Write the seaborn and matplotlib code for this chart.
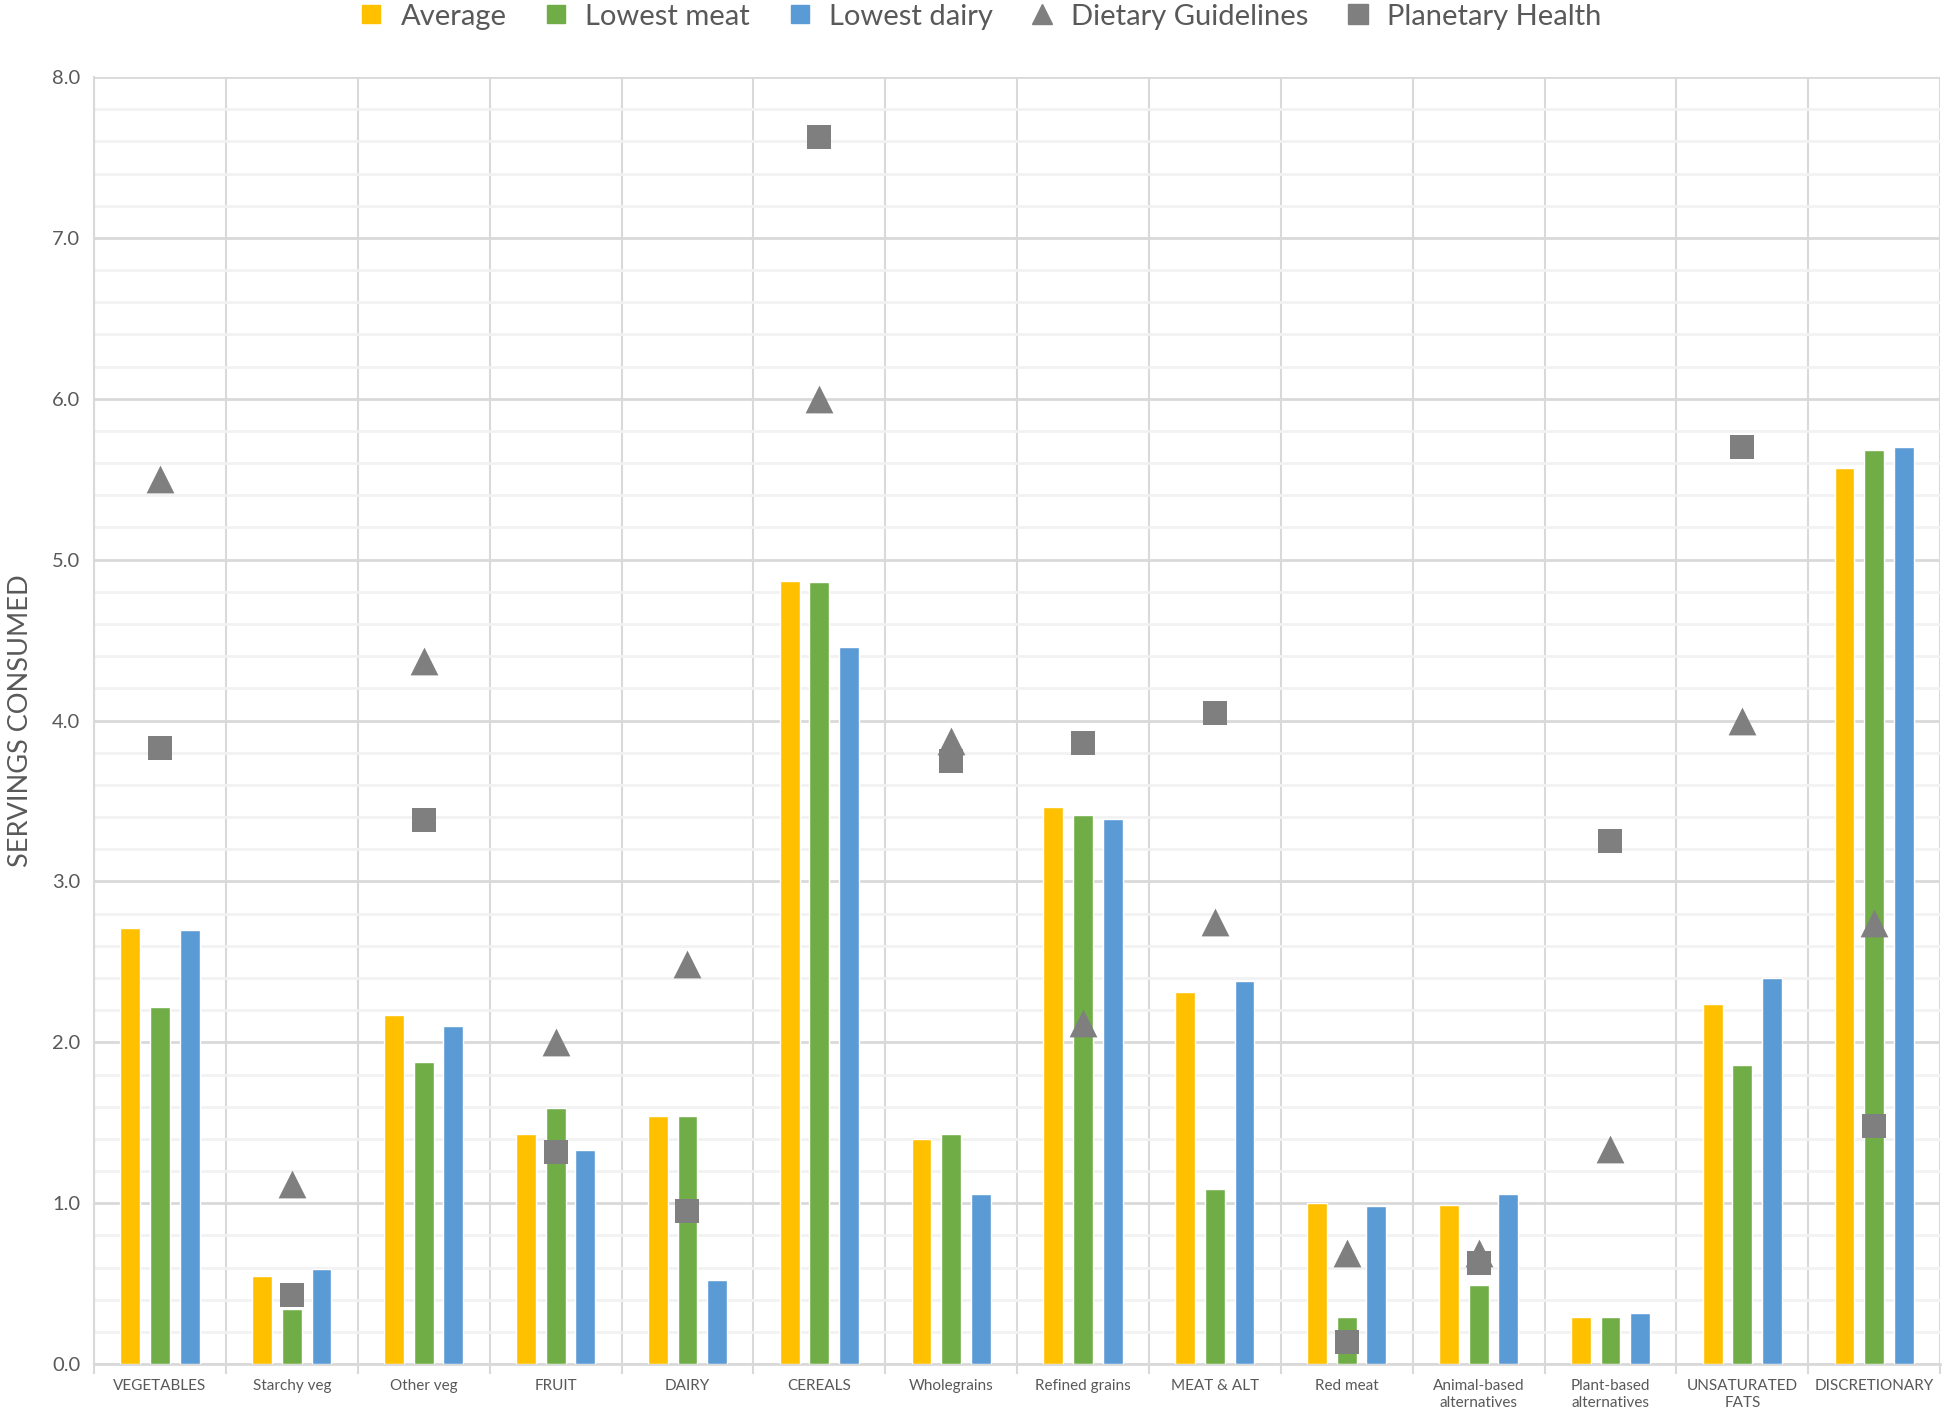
import numpy as np
import pandas as pd
import matplotlib.pyplot as plt
from matplotlib.lines import Line2D
from matplotlib.ticker import MultipleLocator, FixedLocator, FormatStrFormatter
import seaborn as sns

categories = ['VEGETABLES', 'Starchy veg', 'Other veg', 'FRUIT', 'DAIRY', 'CEREALS',
              'Wholegrains', 'Refined grains', 'MEAT & ALT', 'Red meat',
              'Animal-based\nalternatives', 'Plant-based\nalternatives',
              'UNSATURATED\nFATS', 'DISCRETIONARY']
average = [2.71, 0.55, 2.17, 1.43, 1.54, 4.87, 1.40, 3.46, 2.31, 1.00, 0.99, 0.29, 2.24, 5.57]
lowest_meat = [2.22, 0.34, 1.88, 1.59, 1.54, 4.86, 1.43, 3.41, 1.09, 0.29, 0.49, 0.29, 1.86, 5.68]
lowest_dairy = [2.70, 0.59, 2.10, 1.33, 0.52, 4.46, 1.06, 3.39, 2.38, 0.98, 1.06, 0.32, 2.40, 5.70]
dietary_guidelines = [5.50, 1.12, 4.37, 2.00, 2.49, 6.00, 3.87, 2.12, 2.75, 0.69, 0.69, 1.34, 4.00, 2.74]
planetary_health = [3.83, 0.43, 3.38, 1.32, 0.95, 7.63, 3.75, 3.86, 4.05, 0.14, 0.63, 3.25, 5.70, 1.48]

series_names = ['Average', 'Lowest meat', 'Lowest dairy']
colors = ['#FFC000', '#70AD47', '#5B9BD5']
grey = '#7F7F7F'
text_grey = '#595959'

sns.set_theme(style='white')
plt.rcParams['font.family'] = ['Lato', 'DejaVu Sans']

df = pd.DataFrame({
    'cat': categories * 3,
    'series': np.repeat(series_names, len(categories)),
    'value': average + lowest_meat + lowest_dairy,
})
df_pts = pd.DataFrame({'cat': categories, 'dg': dietary_guidelines, 'ph': planetary_health})

fig = plt.figure(figsize=(19.44, 14.18), dpi=100)
ax = fig.add_axes([0.0484, 0.038, 0.9496, 0.9077])

sns.barplot(data=df, x='cat', y='value', hue='series', palette=colors, saturation=1,
            width=0.675, gap=0.33, ax=ax, legend=False, zorder=3)
sns.stripplot(data=df_pts, x='cat', y='dg', marker='^', color=grey, size=20,
              jitter=False, ax=ax, zorder=4, linewidth=0)
sns.stripplot(data=df_pts, x='cat', y='ph', marker='s', color=grey, size=17,
              jitter=False, ax=ax, zorder=5, linewidth=0)

ax.set_xlim(-0.5, len(categories) - 0.5)
ax.set_ylim(0, 8)
ax.yaxis.set_major_locator(MultipleLocator(1.0))
ax.yaxis.set_minor_locator(MultipleLocator(0.2))
ax.yaxis.set_major_formatter(FormatStrFormatter('%.1f'))
ax.xaxis.set_minor_locator(FixedLocator(np.arange(-0.5, len(categories), 1.0)))

ax.yaxis.grid(True, which='major', color='#D9D9D9', linewidth=2, zorder=0)
ax.yaxis.grid(True, which='minor', color='#F2F2F2', linewidth=2, zorder=0)
ax.xaxis.grid(True, which='minor', color='#D9D9D9', linewidth=1.5, zorder=0)
ax.xaxis.grid(False, which='major')
ax.set_axisbelow(True)

ax.tick_params(axis='x', which='major', length=0, labelsize=11, labelcolor=text_grey, pad=11)
ax.tick_params(axis='x', which='minor', length=7, color='#D9D9D9', width=1.5, bottom=True)
ax.tick_params(axis='y', which='both', length=0, labelsize=14.5, labelcolor=text_grey, pad=10)

ax.spines['top'].set_visible(False)
ax.spines['right'].set_visible(False)
ax.spines['left'].set_color('#D9D9D9')
ax.spines['left'].set_linewidth(1.5)
ax.spines['bottom'].set_color('#D9D9D9')
ax.spines['bottom'].set_linewidth(2)

ax.set_xlabel('')
ax.set_ylabel('SERVINGS CONSUMED', fontsize=19.5, color=text_grey, labelpad=14)

handles = [Line2D([], [], marker='s', linestyle='', color=c, markersize=13) for c in colors]
handles.append(Line2D([], [], marker='^', linestyle='', color=grey, markersize=14))
handles.append(Line2D([], [], marker='s', linestyle='', color=grey, markersize=14))
labels = series_names + ['Dietary Guidelines', 'Planetary Health']
fig.legend(handles, labels, loc='upper center', bbox_to_anchor=(0.5, 1.016), ncol=5,
           frameon=False, fontsize=21, handletextpad=0.0, columnspacing=0.7,
           labelcolor=text_grey)

fig.savefig('out.png', dpi=100)
